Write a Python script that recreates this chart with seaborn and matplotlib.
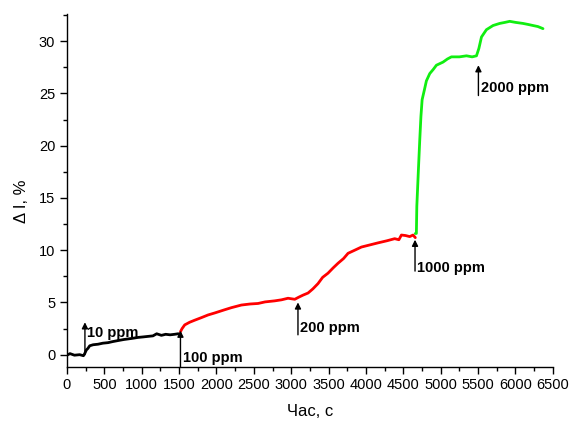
import matplotlib
matplotlib.use("Agg")
import matplotlib.pyplot as plt
import seaborn as sns
import pandas as pd
from matplotlib.ticker import MultipleLocator

# Data
t_black = [0, 40, 100, 170, 220, 237, 259, 280, 304, 350, 415, 480, 549, 610, 683, 760, 861, 950, 1020, 1084, 1150, 1200, 1263, 1320, 1380, 1440, 1486, 1518]
v_black = [-0.05, 0.1, -0.05, 0.0, -0.1, 0.1, 0.45, 0.6, 0.85, 0.95, 1.0, 1.1, 1.15, 1.25, 1.35, 1.45, 1.55, 1.65, 1.7, 1.75, 1.8, 2.0, 1.85, 1.95, 1.9, 1.95, 2.0, 1.95]

t_red = [1518, 1540, 1575, 1640, 1709, 1800, 1887, 1980, 2110, 2200, 2333, 2450, 2556, 2650, 2779, 2870, 2957, 3047, 3100, 3158, 3225, 3290, 3358, 3420, 3492, 3560, 3626, 3700, 3760, 3850, 3939, 4050, 4161, 4280, 4384, 4440, 4474, 4530, 4585, 4630, 4660]
v_red = [2.2, 2.5, 2.85, 3.1, 3.3, 3.55, 3.8, 4.0, 4.3, 4.5, 4.75, 4.85, 4.9, 5.05, 5.15, 5.25, 5.4, 5.3, 5.5, 5.7, 5.9, 6.3, 6.8, 7.4, 7.8, 8.3, 8.75, 9.2, 9.7, 10.0, 10.3, 10.5, 10.7, 10.9, 11.1, 11.0, 11.45, 11.4, 11.3, 11.45, 11.2]

t_green = [4660, 4674, 4680, 4700, 4719, 4735, 4751, 4780, 4808, 4853, 4900, 4942, 5031, 5090, 5143, 5250, 5344, 5420, 5478, 5510, 5545, 5611, 5700, 5789, 5860, 5923, 6000, 6100, 6170, 6234, 6300, 6368]
v_green = [11.6, 11.6, 14.2, 17.5, 20.5, 22.8, 24.4, 25.3, 26.2, 26.9, 27.3, 27.7, 28.0, 28.3, 28.5, 28.5, 28.6, 28.5, 28.6, 29.3, 30.4, 31.1, 31.5, 31.7, 31.8, 31.9, 31.8, 31.7, 31.6, 31.5, 31.4, 31.2]

labels = ["10 ppm", "100 ppm", "200 ppm", "1000 ppm", "2000 ppm"]
arrow_x = [240, 1518, 3090, 4656, 5504]
arrow_y0 = [0.0, -1.2, 1.9, 8.0, 24.8]
arrow_y1 = [3.1, 2.3, 5.0, 11.0, 27.7]
label_y = [2.1, -0.3, 2.6, 8.3, 25.5]

sns.set_theme(style="ticks")
plt.rcParams['font.family'] = ['Liberation Sans', 'DejaVu Sans']
plt.rcParams['text.color'] = 'black'
plt.rcParams['axes.labelcolor'] = 'black'

fig = plt.figure(figsize=(5.75, 4.21), dpi=100)
ax = fig.add_axes([0.1165, 0.129, 0.845, 0.8377])

df_b = pd.DataFrame({"t": t_black, "v": v_black})
df_r = pd.DataFrame({"t": t_red, "v": v_red})
df_g = pd.DataFrame({"t": t_green, "v": v_green})
sns.lineplot(data=df_b, x="t", y="v", color="black", lw=2.0, sort=False, ax=ax)
sns.lineplot(data=df_r, x="t", y="v", color="#ff0000", lw=2.0, sort=False, ax=ax)
sns.lineplot(data=df_g, x="t", y="v", color="#11ee11", lw=2.0, sort=False, ax=ax)

for lab, ax_, y0, y1, ly in zip(labels, arrow_x, arrow_y0, arrow_y1, label_y):
    ax.annotate("", xy=(ax_, y1), xytext=(ax_, y0),
                arrowprops=dict(arrowstyle='-|>', color='black', lw=1.0,
                                mutation_scale=9, shrinkA=0, shrinkB=0),
                annotation_clip=False)
    ax.text(ax_ + 30, ly, lab, fontsize=10.5, fontweight='bold', ha='left',
            va='center', color='black')

ax.set_xlim(0, 6500)
ax.set_ylim(-1.15, 32.6)
ax.xaxis.set_major_locator(MultipleLocator(500))
ax.xaxis.set_minor_locator(MultipleLocator(250))
ax.yaxis.set_major_locator(MultipleLocator(5))
ax.yaxis.set_minor_locator(MultipleLocator(2.5))
ax.tick_params(which='major', direction='out', length=5, width=1, labelsize=10.5,
               colors='black', labelcolor='black')
ax.tick_params(which='minor', direction='out', length=3, width=1, colors='black')
for s in ['top', 'right']:
    ax.spines[s].set_visible(False)
for s in ['left', 'bottom']:
    ax.spines[s].set_color('black')
    ax.spines[s].set_linewidth(1.0)

ax.set_xlabel("Час, с", fontsize=12, color='black')
ax.set_ylabel("Δ I, %", fontsize=12, color='black')
ax.yaxis.set_label_coords(-0.078, 0.47)
ax.xaxis.set_label_coords(0.5, -0.105)

fig.savefig("out.png", dpi=100)
